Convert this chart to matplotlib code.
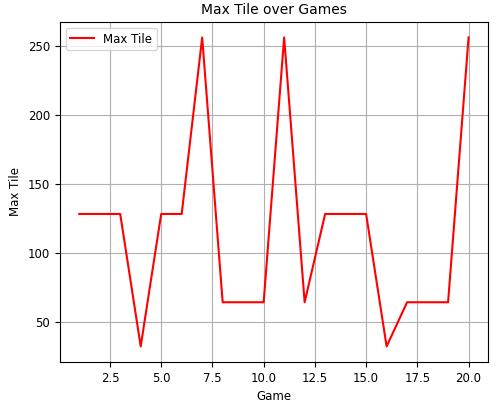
import matplotlib
matplotlib.use("Agg")
import matplotlib.pyplot as plt

plt.rcParams["font.size"] = 8.5

games = list(range(1, 21))
max_tile = [128, 128, 128, 32, 128, 128, 256, 64, 64, 64, 256, 64, 128, 128, 128, 32, 64, 64, 64, 256]

fig, ax = plt.subplots(figsize=(4.98, 4.07), dpi=100)
ax.plot(games, max_tile, color="red", label="Max Tile")
ax.set_title("Max Tile over Games", fontsize=10)
ax.set_xlabel("Game")
ax.set_ylabel("Max Tile")
ax.grid(True)
ax.legend(loc="upper left")
fig.subplots_adjust(left=0.12, right=0.98, top=0.946, bottom=0.111)
fig.savefig("out.png", dpi=100)
